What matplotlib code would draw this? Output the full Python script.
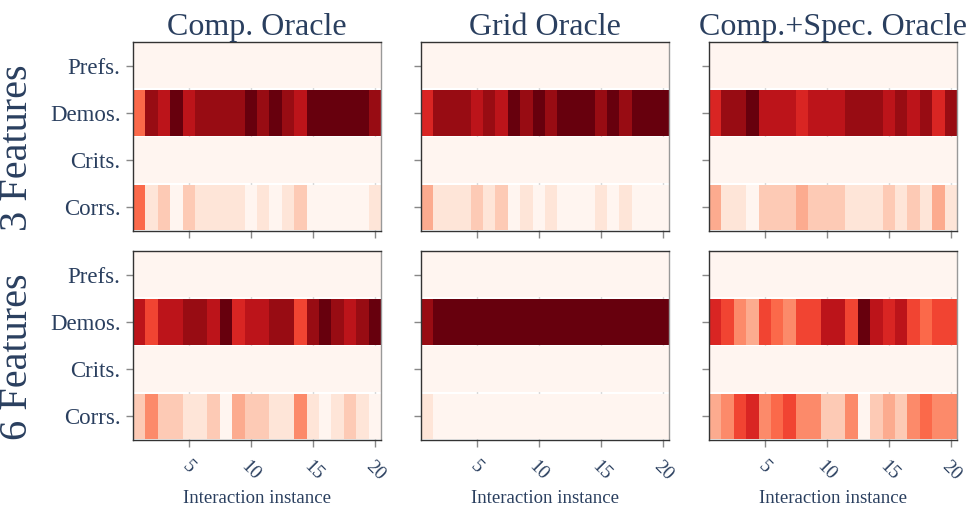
import matplotlib
matplotlib.use("Agg")
import matplotlib.pyplot as plt
import numpy as np

rows = ["Prefs.", "Demos.", "Crits.", "Corrs."]
oracles = ["Comp. Oracle", "Grid Oracle", "Comp.+Spec. Oracle"]
feature_sets = ["3 Features", "6 Features"]
instances = list(range(1, 21))
xticks = [5, 10, 15, 20]

# share of each feedback type per interaction instance
prefs_3 = {
    "comp": [0.0] * 20,
    "grid": [0.0] * 20,
    "spec": [0.0] * 20,
}
demos_3 = {
    "comp": [0.5, 0.9, 0.8, 1.0, 0.8, 0.9, 0.9, 0.9, 0.9, 1.0,
             0.9, 1.0, 0.9, 0.8, 1.0, 1.0, 1.0, 1.0, 1.0, 0.9],
    "grid": [0.7, 0.9, 0.9, 0.9, 0.8, 0.9, 0.8, 1.0, 0.9, 1.0,
             0.9, 1.0, 1.0, 1.0, 0.9, 1.0, 0.9, 1.0, 1.0, 1.0],
    "spec": [0.7, 0.9, 0.9, 1.0, 0.8, 0.8, 0.8, 0.7, 0.8, 0.8,
             0.8, 0.9, 0.9, 0.9, 0.8, 0.9, 0.8, 0.9, 0.7, 0.9],
}
crits_3 = {
    "comp": [0.0] * 20,
    "grid": [0.0] * 20,
    "spec": [0.0] * 20,
}
corrs_3 = {
    "comp": [0.5, 0.1, 0.2, 0.0, 0.2, 0.1, 0.1, 0.1, 0.1, 0.0,
             0.1, 0.0, 0.1, 0.2, 0.0, 0.0, 0.0, 0.0, 0.0, 0.1],
    "grid": [0.3, 0.1, 0.1, 0.1, 0.2, 0.1, 0.2, 0.0, 0.1, 0.0,
             0.1, 0.0, 0.0, 0.0, 0.1, 0.0, 0.1, 0.0, 0.0, 0.0],
    "spec": [0.3, 0.1, 0.1, 0.0, 0.2, 0.2, 0.2, 0.3, 0.2, 0.2,
             0.2, 0.1, 0.1, 0.1, 0.2, 0.1, 0.2, 0.1, 0.3, 0.1],
}

prefs_6 = {
    "comp": [0.0] * 20,
    "grid": [0.0] * 20,
    "spec": [0.0] * 20,
}
demos_6 = {
    "comp": [0.8, 0.6, 0.8, 0.8, 0.9, 0.9, 0.8, 1.0, 0.7, 0.8,
             0.8, 0.9, 0.9, 0.6, 0.9, 1.0, 0.9, 0.8, 0.9, 1.0],
    "grid": [0.9, 1.0, 1.0, 1.0, 1.0, 1.0, 1.0, 1.0, 1.0, 1.0,
             1.0, 1.0, 1.0, 1.0, 1.0, 1.0, 1.0, 1.0, 1.0, 1.0],
    "spec": [0.7, 0.6, 0.4, 0.3, 0.6, 0.5, 0.4, 0.6, 0.6, 0.8,
             0.8, 0.6, 1.0, 0.8, 0.7, 0.8, 0.6, 0.5, 0.6, 0.6],
}
crits_6 = {
    "comp": [0.0] * 20,
    "grid": [0.0] * 20,
    "spec": [0.0] * 20,
}
corrs_6 = {
    "comp": [0.2, 0.4, 0.2, 0.2, 0.1, 0.1, 0.2, 0.0, 0.3, 0.2,
             0.2, 0.1, 0.1, 0.4, 0.1, 0.0, 0.1, 0.2, 0.1, 0.0],
    "grid": [0.1, 0.0, 0.0, 0.0, 0.0, 0.0, 0.0, 0.0, 0.0, 0.0,
             0.0, 0.0, 0.0, 0.0, 0.0, 0.0, 0.0, 0.0, 0.0, 0.0],
    "spec": [0.3, 0.4, 0.6, 0.7, 0.4, 0.5, 0.6, 0.4, 0.4, 0.2,
             0.2, 0.4, 0.0, 0.2, 0.3, 0.2, 0.4, 0.5, 0.4, 0.4],
}

keys = ["comp", "grid", "spec"]
data = [
    [prefs_3, demos_3, crits_3, corrs_3],
    [prefs_6, demos_6, crits_6, corrs_6],
]

TEXT = "#2a3f5f"
plt.rcParams["font.family"] = ["Liberation Serif", "DejaVu Serif"]

fig = plt.figure(figsize=(9.75, 5.14), dpi=100)

W, H = 975.0, 514.0
lefts = [133, 421, 709]
tops = [42, 251]
pw, ph = 248, 189

x_edges = np.arange(0.5, 21.0, 1.0)

for r in range(2):
    for c in range(3):
        ax = fig.add_axes([lefts[c] / W, 1 - (tops[r] + ph) / H, pw / W, ph / H])
        ax.set_facecolor("white")
        for i, series in enumerate(data[r]):
            vals = np.array(series[keys[c]])[None, :]
            ax.pcolormesh(x_edges, [i - 0.48, i + 0.48], vals, cmap="Reds",
                          vmin=0, vmax=1, shading="flat", zorder=2)
        ax.set_xlim(0.5, 20.5)
        ax.set_ylim(3.5, -0.5)
        ax.set_xticks(xticks)
        ax.grid(axis="x", color="#d9d9d9", linewidth=1, zorder=0)
        ax.set_axisbelow(True)
        ax.set_yticks(range(4))
        if c == 0:
            ax.set_yticklabels(rows, fontsize=16.5, color=TEXT)
        else:
            ax.set_yticklabels([])
        ax.tick_params(axis="y", length=5, width=1, color="#888888", pad=4)
        if r == 1:
            ax.set_xticklabels([str(t) for t in xticks], rotation=-45,
                               ha="center", va="top", fontsize=14, color=TEXT)
            ax.set_xlabel("Interaction instance", fontsize=13.5, color=TEXT,
                          labelpad=4)
        else:
            ax.set_xticklabels([])
        ax.tick_params(axis="x", length=5, width=1, color="#888888", pad=8)
        for s in ax.spines.values():
            s.set_color("#333333")
            s.set_linewidth(1)
        ax.spines["right"].set_color("#999999")
        if r == 0:
            ax.set_title(oracles[c], fontsize=23, color=TEXT, pad=3)

fig.text(18 / W, 1 - 148 / H, feature_sets[0], rotation=90, fontsize=29,
         color=TEXT, ha="center", va="center")
fig.text(18 / W, 1 - 357 / H, feature_sets[1], rotation=90, fontsize=29,
         color=TEXT, ha="center", va="center")

fig.savefig("out.png", dpi=100)
